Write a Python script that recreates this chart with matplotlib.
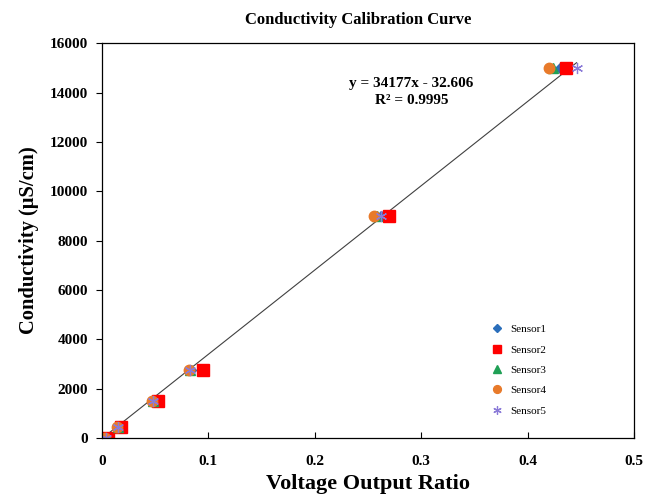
import numpy as np
import matplotlib
matplotlib.use('Agg')
import matplotlib.pyplot as plt

# conductivity standards (uS/cm) and voltage output ratio for each sensor
conductivity = [0, 450, 1500, 2760, 9000, 15000]
sensor1 = [0.004, 0.015, 0.049, 0.084, 0.262, 0.430]
sensor2 = [0.006, 0.018, 0.053, 0.095, 0.270, 0.436]
sensor3 = [0.004, 0.015, 0.048, 0.083, 0.259, 0.424]
sensor4 = [0.003, 0.014, 0.047, 0.082, 0.256, 0.420]
sensor5 = [0.004, 0.015, 0.048, 0.083, 0.262, 0.446]

slope = 34177
intercept = -32.606
r2 = 0.9995

plt.rcParams['font.family'] = ['Liberation Serif', 'DejaVu Serif']

fig = plt.figure(figsize=(6.57, 4.97), dpi=100)
ax = fig.add_axes([0.155, 0.119, 0.81, 0.794])

# linear trendline over the measured range
allx = sensor1 + sensor2 + sensor3 + sensor4 + sensor5
xfit = np.array([min(allx), max(allx)])
ax.plot(xfit, slope * xfit + intercept, color='#404040', lw=0.8, zorder=1)

ax.plot(sensor1, conductivity, 'D', color='#2A6EBB', ms=5.5, ls='none', label='Sensor1')
ax.plot(sensor2, conductivity, 's', color='#FF0000', ms=8.5, ls='none', label='Sensor2')
ax.plot(sensor3, conductivity, '^', color='#1FA055', ms=7, ls='none', label='Sensor3')
ax.plot(sensor4, conductivity, 'o', color='#E87A2A', ms=7.5, ls='none', label='Sensor4')
ax.plot(sensor5, conductivity, marker=(6, 2, 0), color='#8B7BD8', ms=8, mew=0.9,
        ls='none', label='Sensor5')

ax.text(0.291, 14380, f'y = {slope}x - {abs(intercept)}', ha='center', va='center',
        fontsize=11, fontweight='bold')
ax.text(0.291, 13690, f'R² = {r2}', ha='center', va='center',
        fontsize=11, fontweight='bold')

ax.set_xlim(0, 0.5)
ax.set_ylim(0, 16000)
ax.set_xticks([0, 0.1, 0.2, 0.3, 0.4, 0.5])
ax.set_xticklabels(['0', '0.1', '0.2', '0.3', '0.4', '0.5'])
ax.set_yticks(np.arange(0, 16001, 2000))
ax.tick_params(axis='x', direction='in', length=4, labelsize=11, pad=12)
ax.tick_params(axis='y', direction='out', length=4, labelsize=11, pad=6)
for lab in ax.get_xticklabels() + ax.get_yticklabels():
    lab.set_fontweight('bold')
for sp in ax.spines.values():
    sp.set_linewidth(0.9)

ax.set_title('Conductivity Calibration Curve', fontsize=12, fontweight='bold', pad=14, x=0.481)
ax.set_xlabel('Voltage Output Ratio', fontsize=16, fontweight='bold', labelpad=5)
ax.set_ylabel('Conductivity (µS/cm)', fontsize=14.8, fontweight='bold', labelpad=8)

ax.legend(loc='lower left', bbox_to_anchor=(0.722, 0.045), frameon=False, fontsize=8,
          handletextpad=0.6, labelspacing=0.95, handlelength=1.2, borderaxespad=0,
          markerscale=0.75)

fig.savefig('out.png', dpi=100)
